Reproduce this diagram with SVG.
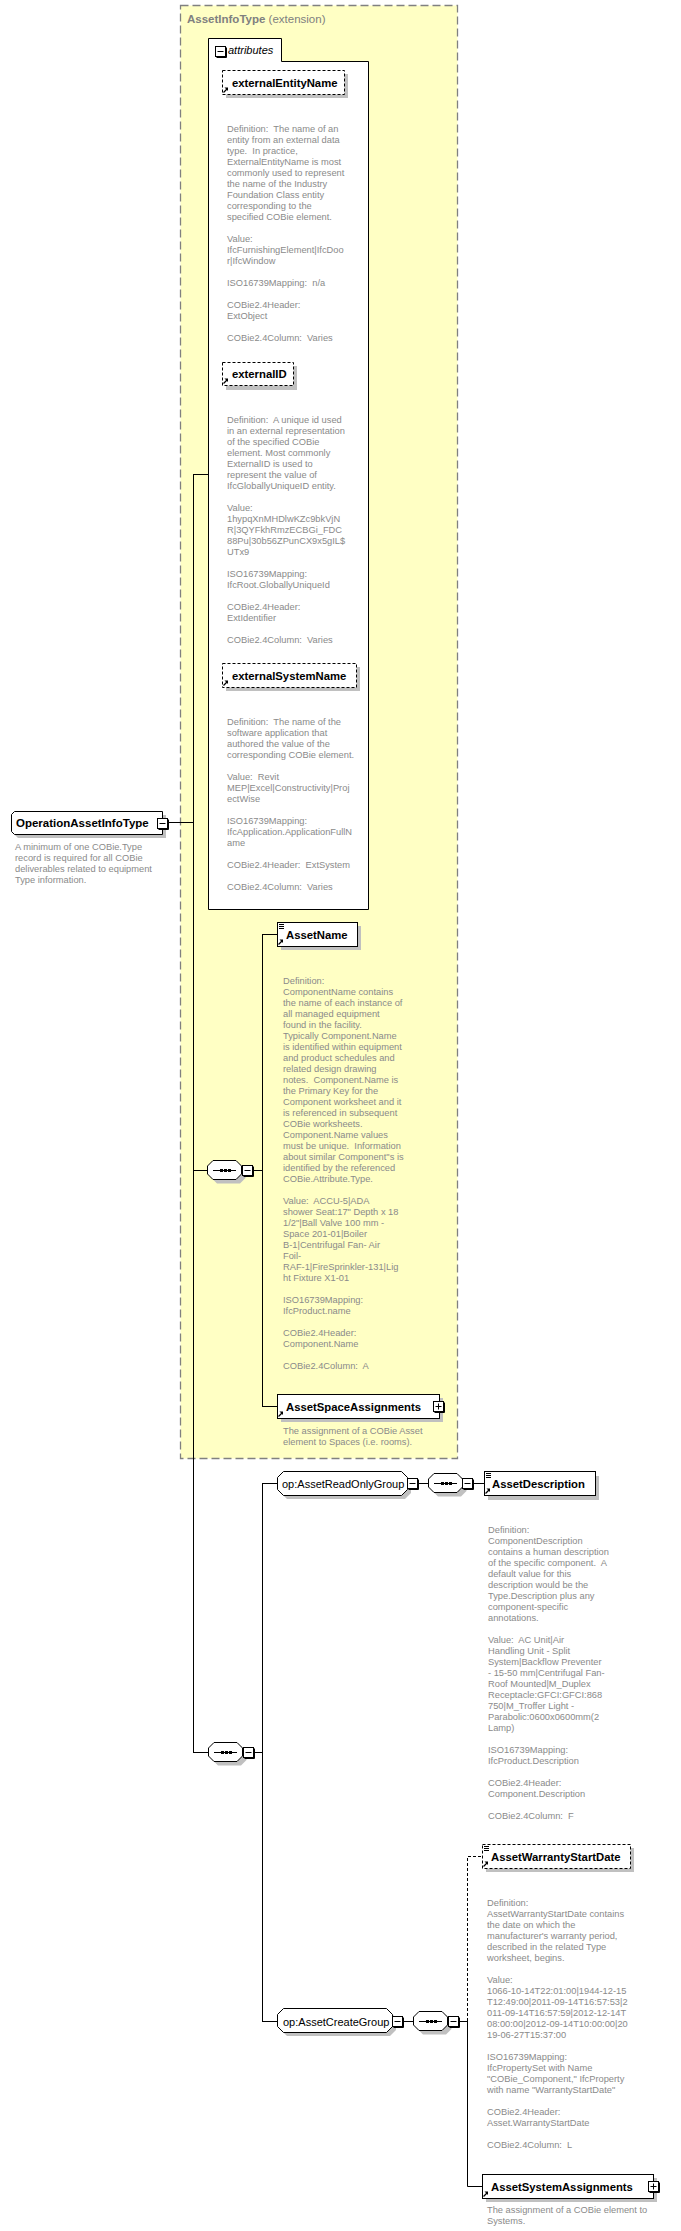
<svg xmlns="http://www.w3.org/2000/svg" width="681" height="2231" viewBox="0 0 681 2231">
<style>
.d{font-family:"Liberation Sans",Arial,sans-serif;font-size:9.3px;fill:#8a8a8a;white-space:pre}
.n{font-family:"Liberation Sans",Arial,sans-serif;font-size:11.3px;font-weight:bold;fill:#000}
.g{font-family:"Liberation Sans",Arial,sans-serif;font-size:11px;fill:#000}
.t{font-family:"Liberation Sans",Arial,sans-serif;font-size:11.5px;fill:#808080}
.box{fill:#fff;stroke:#000;stroke-width:1}
.dbox{fill:#fff;stroke:#000;stroke-width:1;stroke-dasharray:3,2}
.sh{fill:#c0c0c0}
.ln{stroke:#000;stroke-width:1;fill:none}
.dl{stroke:#000;stroke-width:1;fill:none;stroke-dasharray:3,2}
.ic{stroke:#000;stroke-width:1;fill:none}
</style>
<defs>
<g id="exm"><path d="M11.5,1.5 V11.5 H1.5" stroke="#000" fill="none"/><rect x="0.5" y="0.5" width="10" height="10" fill="#fff" stroke="#000"/><path d="M2.5,5.5 H8.5" stroke="#000"/></g>
<g id="exp"><path d="M11.5,1.5 V11.5 H1.5" stroke="#000" fill="none"/><rect x="0.5" y="0.5" width="10" height="10" fill="#fff" stroke="#000"/><path d="M2.5,5.5 H8.5 M5.5,2.5 V8.5" stroke="#000"/></g>
<g id="seq"><path class="sh" d="M10,4 H33 L38.5,10 V18 L33,23.5 H10 L4.5,18 V10 Z"/><path class="box" d="M6,0.5 H29 L34.5,6 V14 L29,19.5 H6 L0.5,14 V6 Z"/><path d="M6,10.5 H29" stroke="#000"/><rect x="13" y="9" width="3" height="3"/><rect x="17" y="9" width="3" height="3"/><rect x="21" y="9" width="3" height="3"/></g>
<g id="lines"><path d="M0,0.5 H5 M0,2.5 H5 M0,4.5 H5" stroke="#000"/></g>
<g id="arr"><path d="M0.5,5.5 L4,2" stroke="#000" stroke-width="1.3"/><path d="M1.5,0.5 H5 V4 Z" fill="#000"/></g>
</defs>

<g id="AssetInfoType">
<rect x="180.5" y="5.5" width="277" height="1453" fill="#ffffc4" stroke="#808080" stroke-width="1.3" stroke-dasharray="8,4"/>
<text class="t" x="187" y="23"><tspan font-weight="bold">AssetInfoType</tspan> (extension)</text>
</g>

<g id="connectors">
<path class="ln" d="M168,822.5 H193.5"/>
<path class="ln" d="M193.5,474 V1752.5"/>
<path class="ln" d="M193,474.5 H208"/>
<path class="ln" d="M193,1170.5 H207"/>
<path class="ln" d="M193,1752.5 H208"/>
<path class="ln" d="M253,1170.5 H262.5 M262.5,934 V1406.5 M262,934.5 H277 M262,1406.5 H277"/>
<path class="ln" d="M254,1752.5 H262.5 M262.5,1483 V2021.5 M262,1483.5 H277 M262,2021.5 H277"/>
<path class="ln" d="M418,1483.5 H428 M473,1483.5 H484"/>
<path class="ln" d="M403,2021.5 H413 M459,2021.5 H467.5"/>
<path class="dl" d="M467.5,2021 V1856.5 H482"/>
<path class="ln" d="M467.5,2021 V2186.5 H482"/>
</g>

<g id="OperationAssetInfoType">
<path class="sh" d="M18,815 H166 V838 H18 L15,835 V818 Z"/>
<path class="box" d="M14.5,811.5 H162.5 V834.5 H14.5 L11.5,831.5 V814.5 Z"/>
<text class="n" x="16" y="826.5" style="font-size:11.5px">OperationAssetInfoType</text>
<use href="#exm" x="157" y="818"/>
<text class="d" x="15" y="850">A minimum of one COBie.Type<tspan x="15" dy="11">record is required for all COBie</tspan><tspan x="15" dy="11">deliverables related to equipment</tspan><tspan x="15" dy="11">Type information.</tspan></text>
</g>

<g id="attributes">
<path class="box" d="M208.5,38.5 H281.5 V61.5 H368.5 V909.5 H208.5 Z"/>
<use href="#exm" x="215" y="46"/>
<text class="g" x="228" y="54" font-style="italic">attributes</text>
</g>

<g id="externalEntityName">
<rect class="sh" x="226" y="74" width="122" height="24"/>
<rect class="dbox" x="222.5" y="70.5" width="122" height="24"/>
<use href="#arr" x="223" y="87"/>
<text class="n" x="232" y="86.5">externalEntityName</text>
<text class="d" x="227" y="132">Definition:  The name of an<tspan x="227" dy="11">entity from an external data</tspan><tspan x="227" dy="11">type.  In practice,</tspan><tspan x="227" dy="11">ExternalEntityName is most</tspan><tspan x="227" dy="11">commonly used to represent</tspan><tspan x="227" dy="11">the name of the Industry</tspan><tspan x="227" dy="11">Foundation Class entity</tspan><tspan x="227" dy="11">corresponding to the</tspan><tspan x="227" dy="11">specified COBie element.</tspan><tspan x="227" dy="22">Value:</tspan><tspan x="227" dy="11">IfcFurnishingElement|IfcDoo</tspan><tspan x="227" dy="11">r|IfcWindow</tspan><tspan x="227" dy="22">ISO16739Mapping:  n/a</tspan><tspan x="227" dy="22">COBie2.4Header:</tspan><tspan x="227" dy="11">ExtObject</tspan><tspan x="227" dy="22">COBie2.4Column:  Varies</tspan></text>
</g>

<g id="externalID">
<rect class="sh" x="226" y="366" width="71" height="24"/>
<rect class="dbox" x="222.5" y="362.5" width="71" height="23"/>
<use href="#arr" x="223" y="378"/>
<text class="n" x="232" y="377.5">externalID</text>
<text class="d" x="227" y="423">Definition:  A unique id used<tspan x="227" dy="11">in an external representation</tspan><tspan x="227" dy="11">of the specified COBie</tspan><tspan x="227" dy="11">element. Most commonly</tspan><tspan x="227" dy="11">ExternalID is used to</tspan><tspan x="227" dy="11">represent the value of</tspan><tspan x="227" dy="11">IfcGloballyUniqueID entity.</tspan><tspan x="227" dy="22">Value:</tspan><tspan x="227" dy="11">1hypqXnMHDlwKZc9bkVjN</tspan><tspan x="227" dy="11">R|3QYFkhRmzECBGi_FDC</tspan><tspan x="227" dy="11">88Pu|30b56ZPunCX9x5gIL$</tspan><tspan x="227" dy="11">UTx9</tspan><tspan x="227" dy="22">ISO16739Mapping:</tspan><tspan x="227" dy="11">IfcRoot.GloballyUniqueId</tspan><tspan x="227" dy="22">COBie2.4Header:</tspan><tspan x="227" dy="11">ExtIdentifier</tspan><tspan x="227" dy="22">COBie2.4Column:  Varies</tspan></text>
</g>

<g id="externalSystemName">
<rect class="sh" x="226" y="667" width="134" height="24"/>
<rect class="dbox" x="222.5" y="663.5" width="134" height="24"/>
<use href="#arr" x="223" y="680"/>
<text class="n" x="232" y="679.5">externalSystemName</text>
<text class="d" x="227" y="725">Definition:  The name of the<tspan x="227" dy="11">software application that</tspan><tspan x="227" dy="11">authored the value of the</tspan><tspan x="227" dy="11">corresponding COBie element.</tspan><tspan x="227" dy="22">Value:  Revit</tspan><tspan x="227" dy="11">MEP|Excel|Constructivity|Proj</tspan><tspan x="227" dy="11">ectWise</tspan><tspan x="227" dy="22">ISO16739Mapping:</tspan><tspan x="227" dy="11">IfcApplication.ApplicationFullN</tspan><tspan x="227" dy="11">ame</tspan><tspan x="227" dy="22">COBie2.4Header:  ExtSystem</tspan><tspan x="227" dy="22">COBie2.4Column:  Varies</tspan></text>
</g>

<g id="sequence1"><use href="#seq" x="207" y="1160"/><use href="#exm" x="242" y="1165"/></g>

<g id="AssetName">
<rect class="sh" x="281" y="926" width="80" height="24"/>
<rect class="box" x="277.5" y="922.5" width="80" height="24"/>
<use href="#lines" x="279" y="924"/>
<use href="#arr" x="278" y="939"/>
<text class="n" x="286" y="938.5">AssetName</text>
<text class="d" x="283" y="984">Definition:<tspan x="283" dy="11">ComponentName contains</tspan><tspan x="283" dy="11">the name of each instance of</tspan><tspan x="283" dy="11">all managed equipment</tspan><tspan x="283" dy="11">found in the facility.</tspan><tspan x="283" dy="11">Typically Component.Name</tspan><tspan x="283" dy="11">is identified within equipment</tspan><tspan x="283" dy="11">and product schedules and</tspan><tspan x="283" dy="11">related design drawing</tspan><tspan x="283" dy="11">notes.  Component.Name is</tspan><tspan x="283" dy="11">the Primary Key for the</tspan><tspan x="283" dy="11">Component worksheet and it</tspan><tspan x="283" dy="11">is referenced in subsequent</tspan><tspan x="283" dy="11">COBie worksheets.</tspan><tspan x="283" dy="11">Component.Name values</tspan><tspan x="283" dy="11">must be unique.  Information</tspan><tspan x="283" dy="11">about similar Component"s is</tspan><tspan x="283" dy="11">identified by the referenced</tspan><tspan x="283" dy="11">COBie.Attribute.Type.</tspan><tspan x="283" dy="22">Value:  ACCU-5|ADA</tspan><tspan x="283" dy="11">shower Seat:17" Depth x 18</tspan><tspan x="283" dy="11">1/2"|Ball Valve 100 mm -</tspan><tspan x="283" dy="11">Space 201-01|Boiler</tspan><tspan x="283" dy="11">B-1|Centrifugal Fan- Air</tspan><tspan x="283" dy="11">Foil-</tspan><tspan x="283" dy="11">RAF-1|FireSprinkler-131|Lig</tspan><tspan x="283" dy="11">ht Fixture X1-01</tspan><tspan x="283" dy="22">ISO16739Mapping:</tspan><tspan x="283" dy="11">IfcProduct.name</tspan><tspan x="283" dy="22">COBie2.4Header:</tspan><tspan x="283" dy="11">Component.Name</tspan><tspan x="283" dy="22">COBie2.4Column:  A</tspan></text>
</g>

<g id="AssetSpaceAssignments">
<rect class="sh" x="281" y="1398" width="162" height="24"/>
<rect class="box" x="277.5" y="1394.5" width="162" height="24"/>
<use href="#arr" x="278" y="1411"/>
<text class="n" x="286" y="1410.5">AssetSpaceAssignments</text>
<use href="#exp" x="433" y="1401"/>
<text class="d" x="283" y="1434">The assignment of a COBie Asset<tspan x="283" dy="11">element to Spaces (i.e. rooms).</tspan></text>
</g>

<g id="sequence2"><use href="#seq" x="208" y="1742"/><use href="#exm" x="243" y="1747"/></g>

<g id="AssetReadOnlyGroup">
<path class="sh" d="M287,1475 H405 L411,1481 V1493 L405,1499 H287 L281,1493 V1481 Z"/>
<path class="box" d="M283.5,1471.5 H401.5 L407.5,1477.5 V1489.5 L401.5,1495.5 H283.5 L277.5,1489.5 V1477.5 Z"/>
<text class="g" x="282" y="1487.5">op:AssetReadOnlyGroup</text>
<use href="#exm" x="407" y="1478"/>
</g>

<g id="sequence3"><use href="#seq" x="428" y="1473"/><use href="#exm" x="462" y="1478"/></g>

<g id="AssetDescription">
<rect class="sh" x="488" y="1476" width="111" height="24"/>
<rect class="box" x="484.5" y="1471.5" width="111" height="24"/>
<use href="#lines" x="486" y="1473"/>
<use href="#arr" x="485" y="1488"/>
<text class="n" x="492" y="1487.5">AssetDescription</text>
<text class="d" x="488" y="1533">Definition:<tspan x="488" dy="11">ComponentDescription</tspan><tspan x="488" dy="11">contains a human description</tspan><tspan x="488" dy="11">of the specific component.  A</tspan><tspan x="488" dy="11">default value for this</tspan><tspan x="488" dy="11">description would be the</tspan><tspan x="488" dy="11">Type.Description plus any</tspan><tspan x="488" dy="11">component-specific</tspan><tspan x="488" dy="11">annotations.</tspan><tspan x="488" dy="22">Value:  AC Unit|Air</tspan><tspan x="488" dy="11">Handling Unit - Split</tspan><tspan x="488" dy="11">System|Backflow Preventer</tspan><tspan x="488" dy="11">- 15-50 mm|Centrifugal Fan-</tspan><tspan x="488" dy="11">Roof Mounted|M_Duplex</tspan><tspan x="488" dy="11">Receptacle:GFCI:GFCI:868</tspan><tspan x="488" dy="11">750|M_Troffer Light -</tspan><tspan x="488" dy="11">Parabolic:0600x0600mm(2</tspan><tspan x="488" dy="11">Lamp)</tspan><tspan x="488" dy="22">ISO16739Mapping:</tspan><tspan x="488" dy="11">IfcProduct.Description</tspan><tspan x="488" dy="22">COBie2.4Header:</tspan><tspan x="488" dy="11">Component.Description</tspan><tspan x="488" dy="22">COBie2.4Column:  F</tspan></text>
</g>

<g id="AssetCreateGroup">
<path class="sh" d="M287,2012 H390 L396,2018 V2030 L390,2036 H287 L281,2030 V2018 Z"/>
<path class="box" d="M283.5,2008.5 H386.5 L392.5,2014.5 V2026.5 L386.5,2032.5 H283.5 L277.5,2026.5 V2014.5 Z"/>
<text class="g" x="283" y="2025.5">op:AssetCreateGroup</text>
<use href="#exm" x="392" y="2016"/>
</g>

<g id="sequence4"><use href="#seq" x="413" y="2011"/><use href="#exm" x="448" y="2016"/></g>

<g id="AssetWarrantyStartDate">
<rect class="sh" x="486" y="1848" width="148" height="24"/>
<rect class="dbox" x="482.5" y="1844.5" width="148" height="24"/>
<use href="#lines" x="484" y="1846"/>
<use href="#arr" x="483" y="1861"/>
<text class="n" x="491" y="1860.5">AssetWarrantyStartDate</text>
<text class="d" x="487" y="1906">Definition:<tspan x="487" dy="11">AssetWarrantyStartDate contains</tspan><tspan x="487" dy="11">the date on which the</tspan><tspan x="487" dy="11">manufacturer's warranty period,</tspan><tspan x="487" dy="11">described in the related Type</tspan><tspan x="487" dy="11">worksheet, begins.</tspan><tspan x="487" dy="22">Value:</tspan><tspan x="487" dy="11">1066-10-14T22:01:00|1944-12-15</tspan><tspan x="487" dy="11">T12:49:00|2011-09-14T16:57:53|2</tspan><tspan x="487" dy="11">011-09-14T16:57:59|2012-12-14T</tspan><tspan x="487" dy="11">08:00:00|2012-09-14T10:00:00|20</tspan><tspan x="487" dy="11">19-06-27T15:37:00</tspan><tspan x="487" dy="22">ISO16739Mapping:</tspan><tspan x="487" dy="11">IfcPropertySet with Name</tspan><tspan x="487" dy="11">"COBie_Component," IfcProperty</tspan><tspan x="487" dy="11">with name "WarrantyStartDate"</tspan><tspan x="487" dy="22">COBie2.4Header:</tspan><tspan x="487" dy="11">Asset.WarrantyStartDate</tspan><tspan x="487" dy="22">COBie2.4Column:  L</tspan></text>
</g>

<g id="AssetSystemAssignments">
<rect class="sh" x="486" y="2178" width="171" height="24"/>
<rect class="box" x="482.5" y="2174.5" width="171" height="24"/>
<use href="#arr" x="483" y="2191"/>
<text class="n" x="491" y="2190.5">AssetSystemAssignments</text>
<use href="#exp" x="648" y="2181"/>
<text class="d" x="487" y="2213">The assignment of a COBie element to<tspan x="487" dy="11">Systems.</tspan></text>
</g>
</svg>
